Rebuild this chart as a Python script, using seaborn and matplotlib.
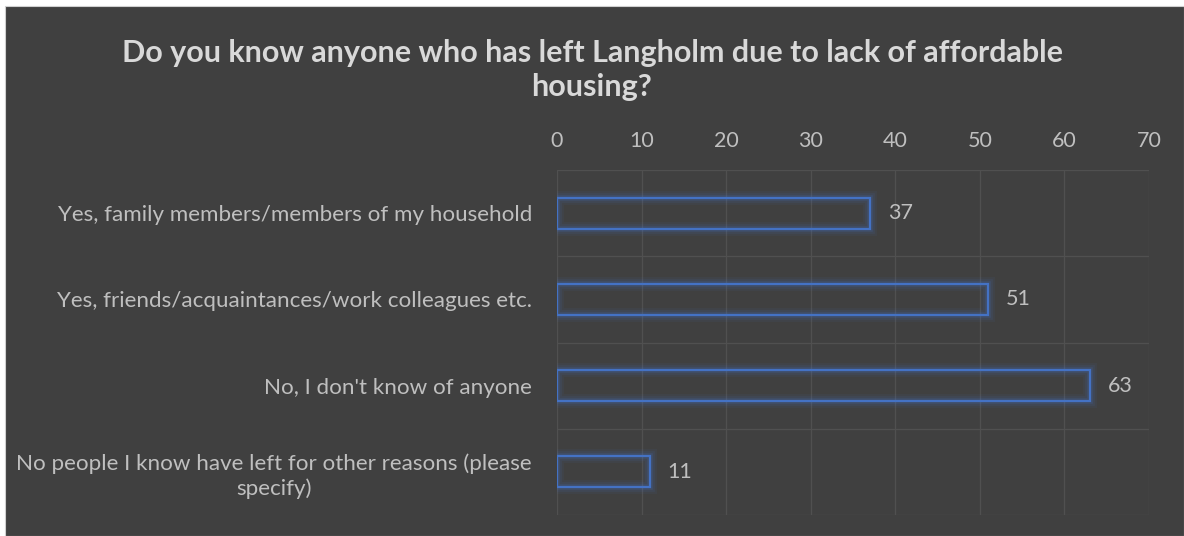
import matplotlib
matplotlib.use("Agg")
import matplotlib.pyplot as plt
import matplotlib.patheffects as pe
import seaborn as sns
import pandas as pd
import numpy as np

categories = [
    "Yes, family members/members of my household",
    "Yes, friends/acquaintances/work colleagues etc.",
    "No, I don't know of anyone",
    "No people I know have left for other reasons (please\nspecify)",
]
counts = [37, 51, 63, 11]
x_ticks = [0, 10, 20, 30, 40, 50, 60, 70]

title = "Do you know anyone who has left Langholm due to lack of affordable\nhousing?"

BG = "#404040"
TEXT = "#BFBFBF"
GRID = "#505050"
BLUE = "#4472C4"

sns.set_theme(style="dark")
plt.rcParams["font.family"] = ["Lato", "DejaVu Sans"]

df = pd.DataFrame({"category": categories, "count": counts})

fig = plt.figure(figsize=(11.84, 5.36), dpi=100)
fig.patch.set_facecolor("white")
# dark chart panel with a thin white margin on the top/left
panel = plt.Rectangle((5 / 1184, 0), 1 - 5 / 1184, 1 - 6 / 536,
                      transform=fig.transFigure, facecolor=BG, edgecolor="#D0D0D0",
                      linewidth=0.8, zorder=-10)
fig.patches.append(panel)

ax = fig.add_axes([557 / 1184, 1 - 515 / 536, (1149 - 557) / 1184, (515 - 170) / 536])
ax.set_facecolor(BG)

sns.barplot(data=df, x="count", y="category", ax=ax, orient="h",
            width=0.36, fill=False, color=BLUE, linewidth=1.6, zorder=3)

# soft outer glow around each outlined bar
for patch in ax.patches:
    patch.set_edgecolor(BLUE)
    patch.set_facecolor("none")
    patch.set_path_effects([
        pe.Stroke(linewidth=10, foreground=BLUE, alpha=0.07),
        pe.Stroke(linewidth=7, foreground=BLUE, alpha=0.10),
        pe.Stroke(linewidth=4, foreground=BLUE, alpha=0.18),
        pe.Normal(),
    ])

for i, v in enumerate(counts):
    ax.text(v + 2.1, i, str(v), va="center", ha="left", color=TEXT, fontsize=15.5)

ax.set_xlim(0, 70)
ax.set_ylim(3.5, -0.5)
ax.set_xticks(x_ticks)
ax.xaxis.tick_top()
ax.tick_params(axis="x", colors=TEXT, labelsize=15.5, length=0, pad=14)
ax.tick_params(axis="y", colors=TEXT, labelsize=16.1, length=0, pad=18)
for lbl in ax.get_yticklabels():
    lbl.set_horizontalalignment("right")
    lbl.set_multialignment("center")
    lbl.set_linespacing(1.3)
ax.set_yticks(np.arange(-0.5, 4.0, 1.0), minor=True)
ax.grid(True, axis="x", color=GRID, linewidth=0.9, zorder=0)
ax.grid(True, axis="y", which="minor", color=GRID, linewidth=0.9, zorder=0)
ax.grid(False, axis="y", which="major")
ax.set_xlabel("")
ax.set_ylabel("")
for s in ax.spines.values():
    s.set_visible(False)

fig.text(592 / 1184, 1 - 70 / 536, title, ha="center", va="center",
         color="#D9D9D9", fontsize=22, fontweight="bold", linespacing=1.3)

fig.savefig("out.png", dpi=100, facecolor=fig.get_facecolor())
